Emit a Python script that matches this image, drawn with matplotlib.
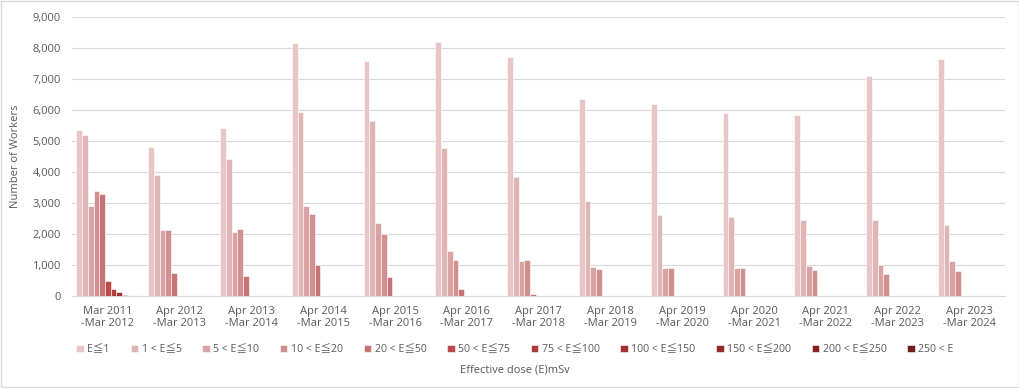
import matplotlib
matplotlib.use("Agg")
import matplotlib.pyplot as plt
import numpy as np

plt.rcParams["font.family"] = ["Open Sans", "Noto Sans CJK JP", "DejaVu Sans"]

# Fiscal periods (x categories)
periods = [
    "Mar 2011\n-Mar 2012", "Apr 2012\n-Mar 2013", "Apr 2013\n-Mar 2014",
    "Apr 2014\n-Mar 2015", "Apr 2015\n-Mar 2016", "Apr 2016\n-Mar 2017",
    "Apr 2017\n-Mar 2018", "Apr 2018\n-Mar 2019", "Apr 2019\n-Mar 2020",
    "Apr 2020\n-Mar 2021", "Apr 2021\n-Mar 2022", "Apr 2022\n-Mar 2023",
    "Apr 2023\n-Mar 2024",
]

# Dose bands (series)
bands = [
    "E≦1", "1 < E≦5", "5 < E≦10", "10 < E≦20", "20 < E≦50", "50 < E≦75",
    "75 < E≦100", "100 < E≦150", "150 < E≦200", "200 < E≦250", "250 < E",
]

# Number of workers per band, one list per band
e_le_1 = [5350, 4820, 5420, 8160, 7580, 8180, 7710, 6355, 6200, 5915, 5840, 7100, 7645]
e_1_5 = [5200, 3900, 4410, 5935, 5645, 4775, 3850, 3075, 2625, 2540, 2440, 2460, 2300]
e_5_10 = [2920, 2130, 2075, 2915, 2345, 1460, 1120, 935, 895, 895, 955, 1000, 1140]
e_10_20 = [3380, 2130, 2150, 2645, 1995, 1150, 1150, 870, 915, 915, 830, 710, 805]
e_20_50 = [3280, 730, 645, 990, 605, 215, 65, 0, 0, 0, 0, 0, 0]
e_50_75 = [495, 0, 0, 0, 0, 0, 0, 0, 0, 0, 0, 0, 0]
e_75_100 = [225, 0, 0, 0, 0, 0, 0, 0, 0, 0, 0, 0, 0]
e_100_150 = [117, 0, 0, 0, 0, 0, 0, 0, 0, 0, 0, 0, 0]
e_150_200 = [28, 0, 0, 0, 0, 0, 0, 0, 0, 0, 0, 0, 0]
e_200_250 = [3, 0, 0, 0, 0, 0, 0, 0, 0, 0, 0, 0, 0]
e_over_250 = [6, 0, 0, 0, 0, 0, 0, 0, 0, 0, 0, 0, 0]

series = [e_le_1, e_1_5, e_5_10, e_10_20, e_20_50, e_50_75,
          e_75_100, e_100_150, e_150_200, e_200_250, e_over_250]

colors = ["#e8c6c6", "#e0b5b5", "#d9a3a3", "#d18f8f", "#c97474", "#c04848",
          "#b43a3a", "#a53030", "#952a2a", "#842525", "#6e1f1f"]

fig = plt.figure(figsize=(10.2, 3.88), dpi=100)
ax = fig.add_axes([0.0706, 0.237, 0.915, 0.719])

x = np.arange(len(periods))
n = len(series)
width = 0.875 / n

for i, (vals, col, lab) in enumerate(zip(series, colors, bands)):
    offset = (i - (n - 1) / 2) * width
    ax.bar(x + offset, vals, width, color=col, edgecolor="white",
           linewidth=0.4, label=lab, zorder=3)

ax.set_xlim(-0.5, len(periods) - 0.5)
ax.set_ylim(0, 9000)
ax.set_yticks(np.arange(0, 9001, 1000))
ax.yaxis.set_major_formatter(matplotlib.ticker.StrMethodFormatter("{x:,.0f}"))
ax.set_xticks(x)
ax.set_xticklabels(periods)
ax.tick_params(axis="both", length=0, labelsize=8, colors="#595959")
ax.tick_params(axis="x", pad=7)
ax.tick_params(axis="y", pad=8)
ax.grid(axis="y", color="#d9d9d9", linewidth=0.8, zorder=0)
for side in ["top", "right", "left"]:
    ax.spines[side].set_visible(False)
ax.spines["bottom"].set_color("#d9d9d9")

ax.set_ylabel("Number of Workers", fontsize=8, color="#595959", labelpad=8)

fig.legend(loc="center", bbox_to_anchor=(0.505, 0.098), ncol=n, frameon=False,
           fontsize=7.6, handlelength=0.7, handleheight=0.7, handletextpad=0.35,
           columnspacing=1.95, labelcolor="#595959")
fig.text(0.505, 0.047, "Effective dose (E)mSv", ha="center", va="center",
         fontsize=8, color="#595959")

fig.patches.append(plt.Rectangle((0.001, 0.003), 0.998, 0.994, transform=fig.transFigure,
                                 fill=False, edgecolor="#d9d9d9", linewidth=1))

fig.savefig("out.png", dpi=100, facecolor="white")
